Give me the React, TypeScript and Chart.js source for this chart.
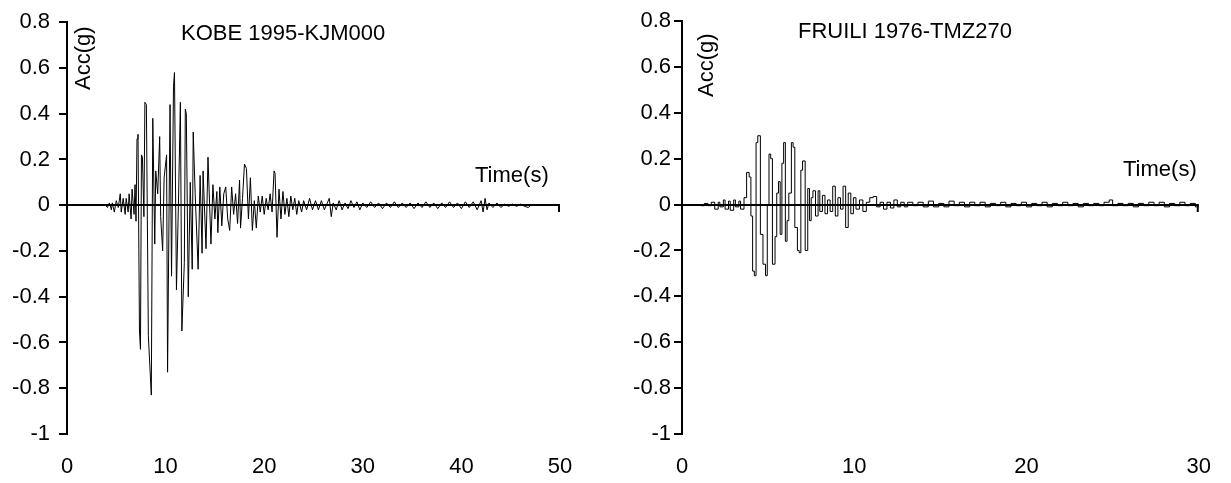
import React, { useEffect, useRef } from "react";
import { Chart, registerables } from "chart.js";

Chart.register(...registerables);

const FONT_FAMILY = '"Liberation Sans", Arial, Helvetica, sans-serif';

// ---- shared axis values ----
const yTickValues = [-1, -0.8, -0.6, -0.4, -0.2, 0, 0.2, 0.4, 0.6, 0.8];
const yAxisTitle = "Acc(g)";
const xAxisTitle = "Time(s)";

// ---- KOBE 1995-KJM000 ----
const kobeTitle = "KOBE 1995-KJM000";
const kobeXTicks = [0, 10, 20, 30, 40, 50];
const kobeTime = [
  0, 3.9, 4.1, 4.3, 4.5, 4.6, 4.8, 5.0, 5.2, 5.4, 5.5, 5.7, 5.9, 6.0, 6.2, 6.3, 6.5, 6.6, 6.8, 6.9,
  7.0, 7.1, 7.2, 7.35, 7.45, 7.55, 7.65, 7.8, 7.9, 8.05, 8.25, 8.55, 8.7, 8.9, 9.0, 9.2, 9.4, 9.5, 9.7, 9.85,
  10.1, 10.2, 10.45, 10.6, 10.8, 10.9, 11.1, 11.3, 11.5, 11.65, 11.9, 12.0, 12.1, 12.3, 12.5, 12.7, 12.8, 13.0, 13.3, 13.5,
  13.7, 13.8, 14.1, 14.3, 14.6, 14.8, 15.0, 15.2, 15.3, 15.5, 15.7, 15.9, 16.1, 16.3, 16.5, 16.7, 16.9, 17.1, 17.3, 17.5,
  17.6, 17.8, 18.0, 18.2, 18.4, 18.6, 18.8, 19.0, 19.2, 19.4, 19.6, 19.8, 20.0, 20.2, 20.4, 20.6, 20.8, 21.0, 21.1, 21.3,
  21.5, 21.7, 21.9, 22.1, 22.3, 22.5, 22.7, 22.9, 23.1, 23.3, 23.5, 23.8, 24.0, 24.3, 24.6, 24.9, 25.2, 25.5, 25.8, 26.1,
  26.4, 26.6, 26.8, 27.0, 27.3, 27.6, 27.9, 28.2, 28.5, 28.8, 29.1, 29.4, 29.7, 30.0, 30.4, 30.8, 31.2, 31.6, 32.0, 32.4,
  32.8, 33.2, 33.6, 34.0, 34.4, 34.8, 35.2, 35.6, 36.0, 36.4, 36.8, 37.2, 37.6, 38.0, 38.4, 38.8, 39.2, 39.6, 40.0, 40.4,
  40.8, 41.2, 41.6, 42.0, 42.2, 42.4, 42.6, 42.8, 43.2, 43.6, 44.0, 44.4, 44.8, 45.2, 45.6, 46.0, 46.4, 46.8, 47.0, 50.0,
];
const kobeAcc = [
  0, 0, -0.01, 0.01, -0.02, 0.01, -0.03, 0.02, -0.01, 0.05, -0.03, 0.03, -0.04, 0.03, -0.03, 0.05, -0.06, 0.07, -0.04, 0.09,
  -0.07, 0.29, 0.31, -0.55, -0.63, 0.22, 0.21, -0.05, 0.45, 0.44, -0.57, -0.83, 0.38, -0.17, 0.15, 0.05, 0.3, -0.05, -0.2, 0.12,
  0.22, -0.73, 0.44, -0.31, 0.52, 0.58, -0.37, 0.0, 0.45, -0.55, -0.25, 0.42, 0.4, -0.4, 0.1, -0.28, 0.32, 0.05, -0.28, 0.13,
  -0.21, 0.15, -0.19, 0.21, -0.17, 0.09, -0.06, 0.06, -0.12, 0.08, -0.09, 0.05, 0.08, -0.06, -0.11, 0.08, -0.04, 0.05, -0.08, 0.11,
  -0.1, 0.03, 0.18, 0.16, -0.06, 0.12, -0.11, 0.02, -0.1, 0.04, -0.03, 0.04, -0.04, 0.03, -0.02, 0.05, -0.03, 0.15, 0.14, -0.14,
  0.07, -0.06, 0.06, -0.04, 0.03, -0.05, 0.04, -0.02, 0.03, -0.04, 0.02, -0.03, 0.02, -0.02, 0.03, -0.02, 0.02, -0.02, 0.02, -0.02,
  0.01, 0.03, -0.05, 0.01, -0.02, 0.02, -0.02, 0.01, -0.015, 0.02, -0.01, 0.015, -0.02, 0.01, -0.01, 0.015, -0.01, 0.01, -0.015, 0.01,
  -0.01, 0.015, -0.01, 0.01, -0.01, 0.01, -0.015, 0.01, -0.01, 0.015, -0.01, 0.01, -0.015, 0.01, -0.01, 0.015, -0.01, 0.01, -0.015, 0.015,
  -0.01, 0.015, -0.02, 0.02, -0.03, 0.03, -0.02, 0.01, -0.01, 0.01, -0.01, 0.005, -0.005, 0.005, -0.005, 0.005, -0.005, -0.01, 0, 0,
];

// ---- FRUILI 1976-TMZ270 ----
const friuliTitle = "FRUILI 1976-TMZ270";
const friuliXTicks = [0, 10, 20, 30];
const friuliTime = [
  0, 1.0, 1.1, 1.3, 1.5, 1.7, 1.9, 2.1, 2.2, 2.4, 2.5, 2.7, 2.8, 3.0, 3.1, 3.3, 3.4, 3.6, 3.75, 3.9,
  4.0, 4.1, 4.2, 4.3, 4.4, 4.55, 4.7, 4.85, 4.95, 5.05, 5.15, 5.25, 5.4, 5.5, 5.6, 5.7, 5.8, 5.9, 6.0, 6.1,
  6.2, 6.35, 6.45, 6.55, 6.7, 6.8, 6.9, 7.0, 7.15, 7.3, 7.4, 7.5, 7.6, 7.75, 7.9, 8.0, 8.15, 8.3, 8.45, 8.6,
  8.75, 8.9, 9.05, 9.2, 9.35, 9.5, 9.65, 9.8, 9.95, 10.1, 10.3, 10.5, 10.7, 10.9, 11.1, 11.3, 11.5, 11.7, 11.9, 12.1,
  12.3, 12.5, 12.7, 12.9, 13.1, 13.4, 13.7, 14.0, 14.3, 14.6, 14.9, 15.2, 15.5, 15.8, 16.1, 16.4, 16.7, 17.0, 17.3, 17.6,
  17.9, 18.2, 18.5, 18.8, 19.1, 19.4, 19.7, 20.0, 20.3, 20.6, 20.9, 21.2, 21.5, 21.8, 22.1, 22.4, 22.7, 23.0, 23.3, 23.6,
  23.9, 24.2, 24.5, 24.8, 25.0, 25.3, 25.6, 25.9, 26.2, 26.5, 26.8, 27.1, 27.4, 27.7, 28.0, 28.3, 28.6, 28.9, 29.2, 29.5,
  29.8, 30.0,
];
const friuliAcc = [
  0, 0, -0.005, 0.005, -0.005, 0.01, -0.02, 0.01, -0.01, 0.02, -0.02, 0.015, -0.025, 0.02, -0.01, 0.015, -0.02, 0.03, 0.14, 0.12,
  -0.05, -0.29, -0.31, 0.27, 0.3, -0.13, -0.26, -0.31, 0.0, 0.22, 0.2, -0.26, -0.14, 0.05, 0.1, -0.13, 0.18, 0.27, -0.16, -0.07,
  0.05, 0.27, 0.25, -0.1, -0.2, -0.21, 0.15, 0.19, -0.2, 0.07, -0.07, 0.03, 0.06, -0.05, 0.06, -0.03, 0.04, -0.04, 0.02, -0.03,
  0.08, -0.05, 0.03, -0.02, 0.08, -0.1, 0.05, -0.04, 0.03, -0.02, 0.02, -0.03, 0.01, 0.03, 0.035, -0.01, 0.01, -0.02, 0.01, -0.015,
  0.02, -0.01, 0.01, -0.01, 0.01, -0.005, 0.01, -0.01, 0.015, -0.01, 0.005, -0.01, 0.015, -0.005, 0.01, -0.01, 0.01, -0.005, 0.01, -0.01,
  0.005, -0.005, 0.01, -0.01, 0.005, -0.005, 0.01, -0.01, 0.005, -0.005, 0.01, -0.01, 0.005, -0.005, 0.01, -0.005, 0.005, -0.01, 0.005, -0.005,
  0.005, -0.005, 0.01, 0.02, -0.005, 0.005, -0.005, 0.005, -0.01, 0.005, -0.005, 0.01, -0.005, 0.01, -0.01, 0.005, -0.005, 0.01, -0.005, 0.005,
  -0.01, 0,
];

const fmt = (v: number) => {
  const r = Math.round(v * 10) / 10;
  return (r === 0 ? 0 : r).toString();
};

const overlayPlugin = {
  id: "overlay",
  afterDatasetsDraw(chart: any, _args: any, opts: any) {
    const { ctx, chartArea, scales } = chart;
    const y0 = Math.round(scales.y.getPixelForValue(0));
    ctx.save();
    // zero (time) axis with end tick
    ctx.strokeStyle = "#000";
    ctx.lineWidth = 2;
    ctx.beginPath();
    ctx.moveTo(chartArea.left, y0);
    ctx.lineTo(chartArea.right, y0);
    ctx.moveTo(chartArea.right - 1, y0);
    ctx.lineTo(chartArea.right - 1, y0 + 7);
    ctx.stroke();
    // texts
    ctx.fillStyle = "#000";
    ctx.textAlign = "left";
    ctx.textBaseline = "alphabetic";
    ctx.font = `${opts.fontSize}px ${FONT_FAMILY}`;
    ctx.fillText(opts.title, opts.titleX, opts.titleY);
    ctx.fillText(opts.timeLabel, opts.timeX, opts.timeY);
    ctx.translate(opts.accX, opts.accY);
    ctx.rotate(-Math.PI / 2);
    ctx.fillText(opts.accLabel, 0, 0);
    ctx.restore();
  },
};

type PanelProps = {
  times: number[];
  accs: number[];
  xTicks: number[];
  stepped: boolean;
  width: number;
  padRight: number;
  yWidth: number;
  yPad: number;
  overlay: any;
};

function Panel({ times, accs, xTicks, stepped, width, padRight, yWidth, yPad, overlay }: PanelProps) {
  const ref = useRef<HTMLCanvasElement | null>(null);
  useEffect(() => {
    if (!ref.current) return;
    const points = times.map((t, i) => ({ x: t, y: accs[i] }));
    const chart = new Chart(ref.current, {
      type: "line",
      data: {
        datasets: [
          {
            data: points,
            borderColor: "#000",
            borderWidth: 1,
            pointRadius: 0,
            fill: false,
            tension: 0,
            stepped: stepped,
          } as any,
        ],
      },
      options: {
        responsive: false,
        animation: false,
        devicePixelRatio: 1,
        layout: { padding: { left: 0, right: padRight, top: 21, bottom: 0 } },
        plugins: {
          legend: { display: false },
          tooltip: { enabled: false },
          overlay: overlay,
        } as any,
        scales: {
          x: {
            type: "linear",
            min: xTicks[0],
            max: xTicks[xTicks.length - 1],
            afterBuildTicks: (s: any) => {
              s.ticks = xTicks.map((v) => ({ value: v }));
            },
            afterFit: (s: any) => {
              s.height = 49;
            },
            grid: { display: false, drawTicks: false },
            border: { display: false },
            ticks: {
              padding: 20,
              color: "#000",
              maxRotation: 0,
              autoSkip: false,
              font: { size: 22, family: FONT_FAMILY },
              callback: (v: any) => String(v),
            },
          },
          y: {
            type: "linear",
            min: -1,
            max: 0.8,
            afterBuildTicks: (s: any) => {
              s.ticks = yTickValues.map((v) => ({ value: v }));
            },
            afterFit: (s: any) => {
              s.width = yWidth;
            },
            grid: { drawOnChartArea: false, drawTicks: true, tickLength: 8, color: "#000", lineWidth: 2 },
            border: { display: true, color: "#000", width: 2 },
            ticks: {
              padding: yPad,
              color: "#000",
              autoSkip: false,
              font: { size: 22, family: FONT_FAMILY },
              callback: (v: any) => fmt(Number(v)),
            },
          },
        },
      } as any,
      plugins: [overlayPlugin as any],
    });
    return () => chart.destroy();
  }, []);
  return <canvas ref={ref} width={width} height={483} style={{ display: "block", width, height: 483 }} />;
}

export default function App() {
  return (
    <div style={{ position: "absolute", left: 0, top: 0, width: 1231, height: 483, background: "#fff", display: "flex" }}>
      <Panel
        times={kobeTime}
        accs={kobeAcc}
        xTicks={kobeXTicks}
        stepped={false}
        width={615}
        padRight={55}
        yWidth={67}
        yPad={9}
        overlay={{
          fontSize: 22,
          title: kobeTitle,
          titleX: 181,
          titleY: 40,
          timeLabel: xAxisTitle,
          timeX: 475,
          timeY: 182,
          accLabel: yAxisTitle,
          accX: 90,
          accY: 90,
        }}
      />
      <Panel
        times={friuliTime}
        accs={friuliAcc}
        xTicks={friuliXTicks}
        stepped={true}
        width={616}
        padRight={28}
        yWidth={67}
        yPad={3}
        overlay={{
          fontSize: 22,
          title: friuliTitle,
          titleX: 183,
          titleY: 38,
          timeLabel: xAxisTitle,
          timeX: 508,
          timeY: 176,
          accLabel: yAxisTitle,
          accX: 98,
          accY: 97,
        }}
      />
    </div>
  );
}
